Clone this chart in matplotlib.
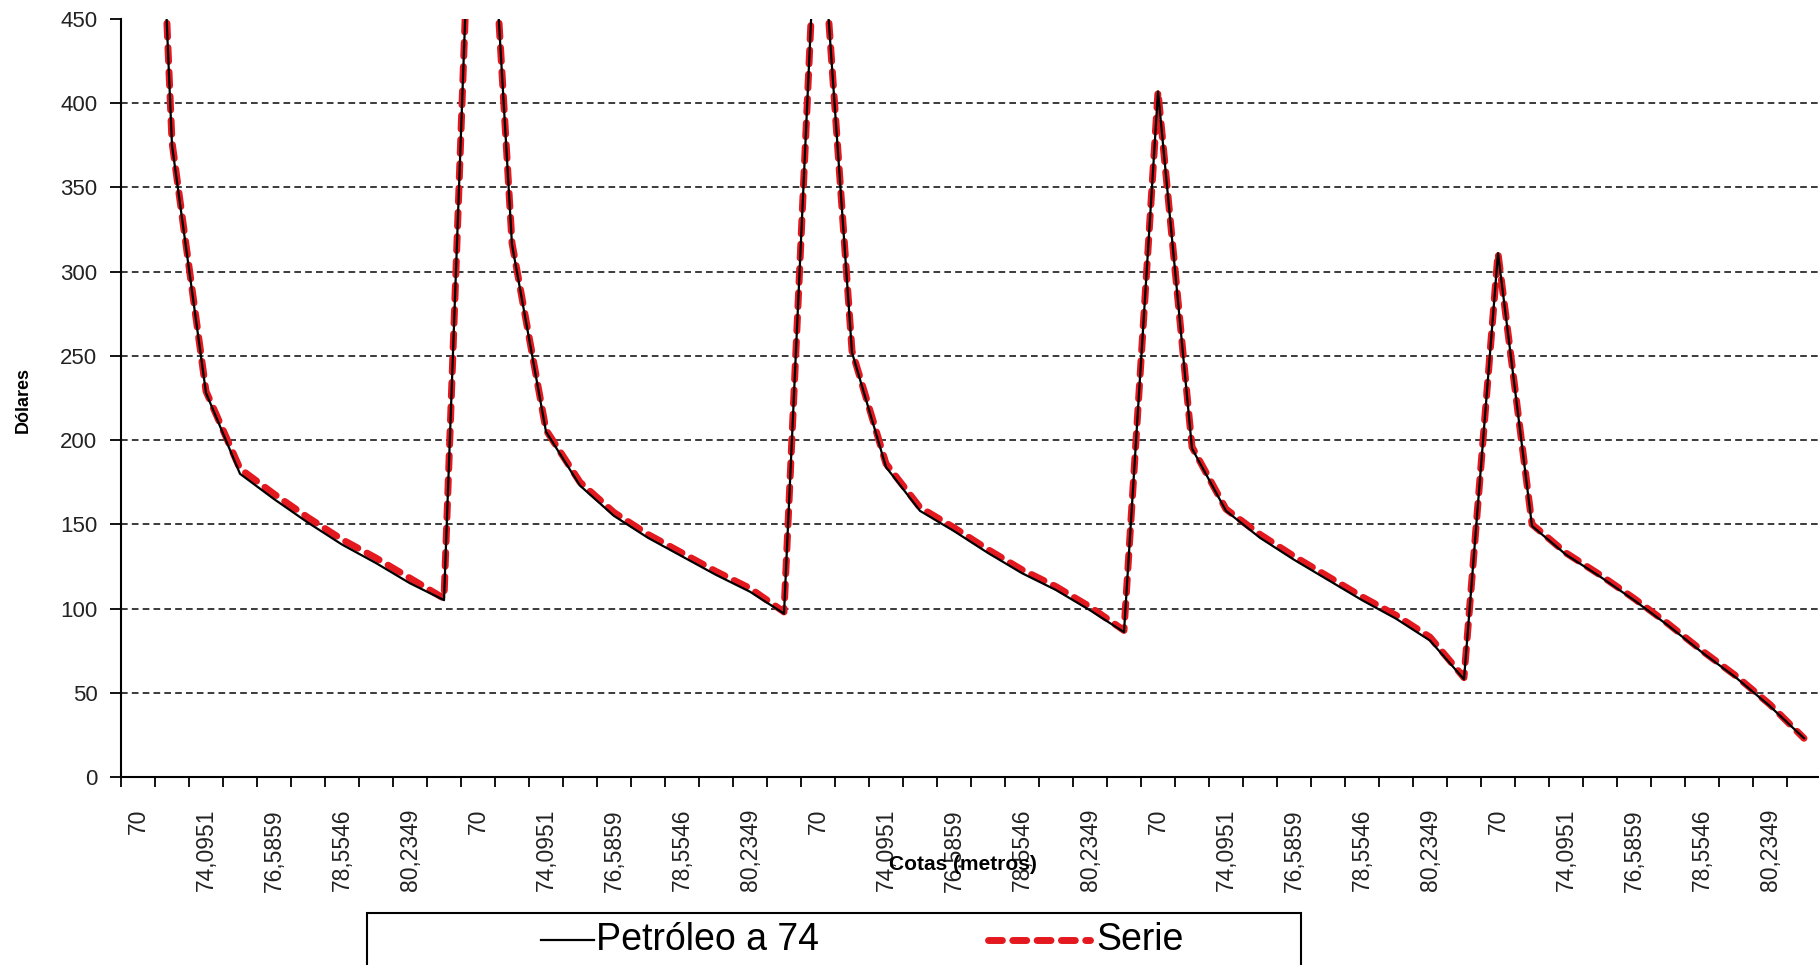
import matplotlib
matplotlib.use('Agg')
import matplotlib.pyplot as plt
from matplotlib.patches import Rectangle
from matplotlib.lines import Line2D

plt.rcParams['font.family'] = ['Liberation Sans', 'DejaVu Sans']

# cotas rotuladas de cada ciclo (una de cada dos categorias)
cotas = ['70', '74,0951', '76,5859', '78,5546', '80,2349']
puntos_por_ciclo = 10

petroleo_74 = [
    850, 375, 228, 180, 165, 151, 138, 127, 115, 105,
    660, 316, 205, 173, 155, 142, 131, 120, 110, 97,
    540, 252, 184, 158, 146, 133, 121, 111, 99, 86,
    407, 195, 158, 142, 129, 117, 105, 94, 81, 58,
    311, 149, 132, 119, 105, 90, 74, 59, 42, 23,
]
serie = [
    850, 377, 229, 183, 168, 154, 141, 130, 118, 106,
    660, 317, 206, 175, 157, 144, 133, 122, 112, 98,
    540, 253, 186, 160, 148, 135, 123, 113, 101, 87,
    407, 196, 159, 144, 131, 119, 107, 96, 83, 59,
    311, 150, 133, 120, 106, 91, 75, 60, 43, 23,
]

W, H = 1819, 965
fig = plt.figure(figsize=(W / 100, H / 100), dpi=100)
ax = fig.add_axes([121 / W, 1 - 777 / H, 1700 / W, 758 / H])

rojo = '#e3191f'
estilo_serie = dict(color=rojo, lw=5, dashes=(2.0, 1.5), dash_capstyle='round')

x = list(range(len(petroleo_74)))
ax.plot(x, serie, zorder=3, **estilo_serie)
ax.plot(x, petroleo_74, color='black', lw=1.6, zorder=4)

for v in range(50, 401, 50):
    ax.axhline(v, color='#1a1a1a', lw=1.2, ls=(0, (4, 2.5)), zorder=1)

ax.set_xlim(-0.5, len(x) - 0.5)
ax.set_ylim(0, 450)
ax.set_yticks(range(0, 451, 50))
ax.tick_params(axis='y', labelsize=16, length=8, width=1.3, pad=9,
               colors='black', labelcolor='#222222')

pos = [i for i in x if i % 2 == 0]
ax.set_xticks(pos)
ax.set_xticklabels([cotas[(i % puntos_por_ciclo) // 2] for i in pos],
                   rotation=90, fontsize=16.5, color='#222222')
ax.tick_params(axis='x', which='major', length=0, pad=23)
ax.set_xticks([i - 0.5 for i in range(len(x) + 1)], minor=True)
ax.tick_params(axis='x', which='minor', length=7, width=1.3, direction='out')

for s in ['top', 'right']:
    ax.spines[s].set_visible(False)
for s in ['left', 'bottom']:
    ax.spines[s].set_linewidth(1.5)

fig.text(23 / W, 1 - 400 / H, 'Dólares', rotation=90, ha='center', va='center',
         fontsize=13, fontweight='bold')
fig.text(963 / W, 1 - 864 / H, 'Cotas (metros)', ha='center', va='center',
         fontsize=15, fontweight='bold')

# leyenda dibujada a mano, la caja queda cortada por el borde inferior
fig.patches.append(Rectangle((366.5 / W, -0.1), (1301 - 366.5) / W, 0.1 + 1 - 913 / H,
                             transform=fig.transFigure, facecolor='white',
                             edgecolor='black', lw=1.5))
y_ley = 1 - 940 / H
fig.lines.append(Line2D([541 / W, 594 / W], [y_ley, y_ley], transform=fig.transFigure,
                        color='black', lw=1.6))
fig.text(596 / W, y_ley, 'Petróleo a 74', ha='left', va='center', fontsize=27)
fig.lines.append(Line2D([988 / W, 1090 / W], [y_ley, y_ley], transform=fig.transFigure,
                        **estilo_serie))
fig.text(1096 / W, y_ley, 'Serie', ha='left', va='center', fontsize=27)

fig.savefig('out.png', dpi=100)
